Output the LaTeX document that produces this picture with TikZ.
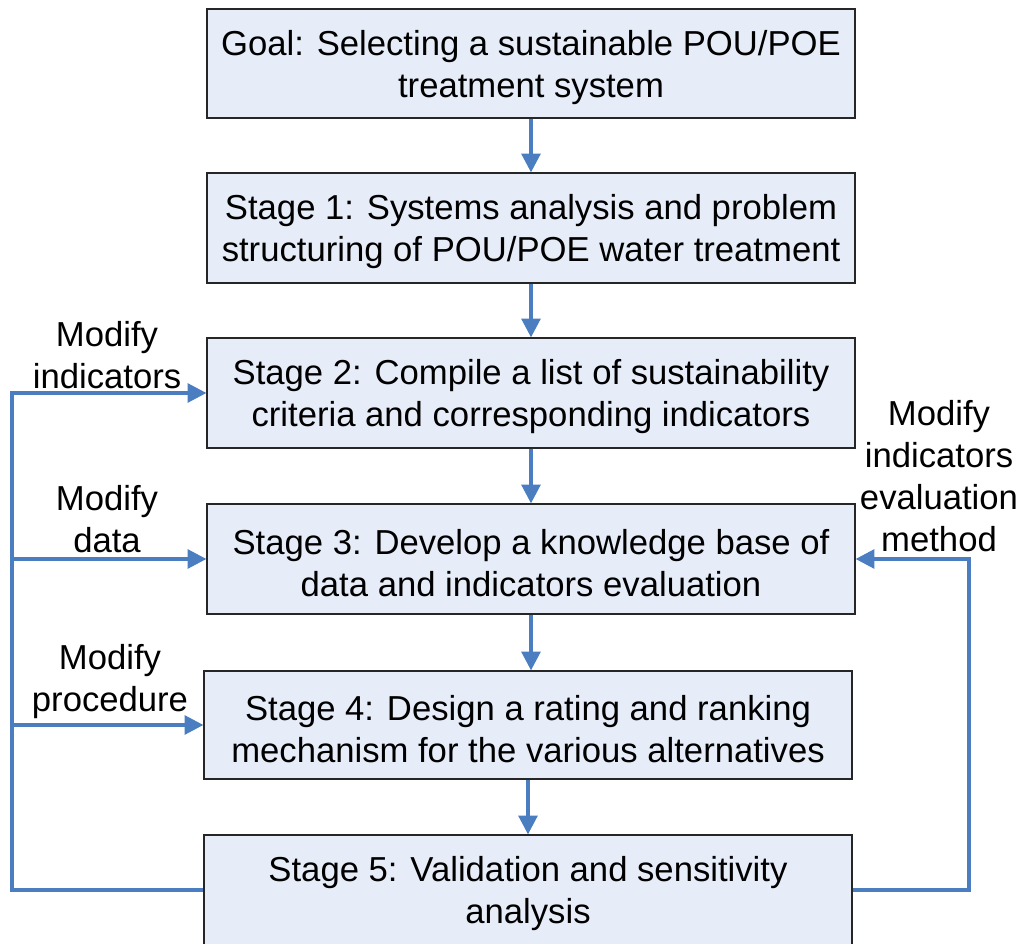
\documentclass[tikz,border=0pt]{standalone}
\usepackage{fontspec}
\setmainfont{Liberation Sans}
\usetikzlibrary{arrows.meta}
\definecolor{boxfill}{RGB}{231,237,248}
\definecolor{flow}{RGB}{74,126,193}
\begin{document}
\begin{tikzpicture}[x=0.75pt,y=-0.75pt,
  stagebox/.style={draw=black!85, line width=0.9pt, fill=boxfill, minimum width=486pt, minimum height=82.5pt, inner sep=0pt},
  boxtext/.style={align=center, inner sep=0pt, yshift=-3pt, font=\fontsize{26}{31.5}\selectfont},
  lbl/.style={align=center, inner sep=0pt, font=\fontsize{26}{31.5}\selectfont},
  flowarrow/.style={draw=flow, line width=2.6pt, line join=miter, -{Triangle[width=14pt,length=14pt]}}]
\clip (0,0) rectangle (1022,944);
\node[stagebox, minimum height=81.75pt, label={[boxtext]center:Goal: Selecting a sustainable POU/POE\\treatment system}] (g) at (531,63.5) {};
\node[stagebox, label={[boxtext]center:Stage 1: Systems analysis and problem\\structuring of POU/POE water treatment}] (s1) at (531,228) {};
\node[stagebox, label={[boxtext]center:Stage 2: Compile a list of sustainability\\criteria and corresponding indicators}] (s2) at (531,393) {};
\node[stagebox, label={[boxtext]center:Stage 3: Develop a knowledge base of\\data and indicators evaluation}] (s3) at (531,559) {};
\node[stagebox, minimum height=81pt, label={[boxtext]center:Stage 4: Design a rating and ranking\\mechanism for the various alternatives}] (s4) at (528,725) {};
\node[stagebox, label={[boxtext]center:Stage 5: Validation and sensitivity\\analysis}] (s5) at (528,890) {};
% main flow
\draw[flowarrow] (g.south) -- (s1.north);
\draw[flowarrow] (s1.south) -- (s2.north);
\draw[flowarrow] (s2.south) -- (s3.north);
\draw[flowarrow] (s3.south) -- (s3.south |- s4.north);
\draw[flowarrow] (s4.south) -- (s5.north);
% feedback left
\coordinate (lx) at (12,0);
\draw[flowarrow] (s5.west) -- (s5.west -| lx) -- (s2.west -| lx) -- (s2.west);
\draw[flowarrow] (s3.west -| lx) -- (s3.west);
\draw[flowarrow] (s4.west -| lx) -- (s4.west);
% feedback right
\coordinate (rx) at (969,0);
\draw[flowarrow] (s5.east) -- (s5.east -| rx) -- (s3.east -| rx) -- (s3.east);
% labels
\node[lbl] (l1) at (107,355) {Modify\\indicators};
\node[lbl] (l2) at (107,519) {Modify\\data};
\node[lbl] (l3) at (110,682) {Modify\\procedure};
\node[lbl] (l4) at (939,476) {Modify\\indicators\\evaluation\\method};
\end{tikzpicture}
\end{document}
